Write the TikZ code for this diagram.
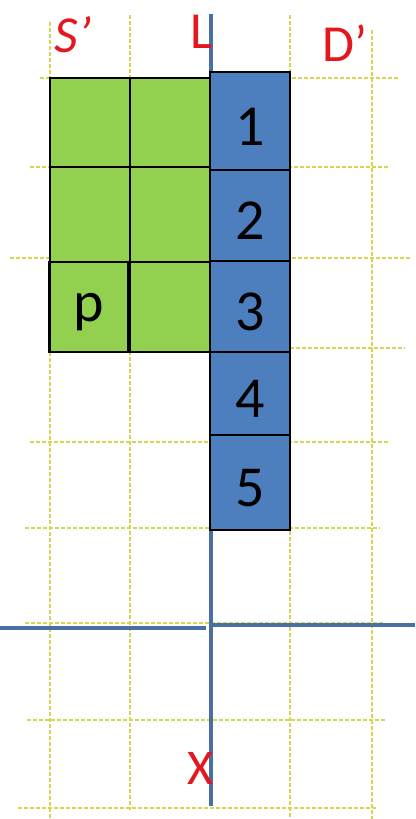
\documentclass[tikz,border=0pt]{standalone}
\usepackage{fontspec}
\setmainfont{Carlito}
\usepackage{xcolor}
\usetikzlibrary{positioning}

\definecolor{cgreen}{RGB}{146,208,80}
\definecolor{cblue}{RGB}{77,127,190}
\definecolor{caxis}{RGB}{74,111,165}
\definecolor{cgrid}{RGB}{214,212,80}
\definecolor{clab}{RGB}{227,23,30}

\begin{document}
\begin{tikzpicture}[
  x=1pt, y=-1pt,
  grd/.style={cgrid,line width=2.2pt,dash pattern=on 3.5pt off 2.5pt},
  axis/.style={caxis,line width=4pt},
  cell/.style={draw=black,line width=2.5pt,inner sep=0pt,minimum width=80pt},
  gc/.style={cell,fill=cgreen},
  bc/.style={cell,fill=cblue,font=\fontsize{58}{60}\selectfont,text height=48pt,text depth=0pt},
  lab/.style={clab,font=\fontsize{52}{56}\selectfont,inner sep=0pt},
]
\useasboundingbox (0,0) rectangle (415,819);

% dotted grid
\foreach \x/\ya/\yb in {50/22/819, 130/15/810, 290/15/819, 372/30/819}
  \draw[grd] (\x,\ya) -- (\x,\yb);
\foreach \y/\xa/\xb in {78/40/398, 167/30/390, 258/10/410, 348/290/405,
                        442/30/390, 528/25/380, 623/25/385, 720/27/385, 808/18/378}
  \draw[grd] (\xa,\y) -- (\xb,\y);

% axes
\coordinate (vt) at (211,14);
\coordinate (vb) at (211,806);
\coordinate (hl) at (0,628);
\coordinate (hm) at (206,628);
\coordinate (hn) at (213,625);
\coordinate (hr) at (415,625);
\draw[axis] (vt) -- (vb);
\draw[axis] (hl) -- (hm);
\draw[axis] (hn) -- (hr);

% green block
\node[gc, minimum height=89pt]                  (g11) at (90,122.5)  {};
\node[gc, minimum height=89pt]                  (g12) at (170,122.5) {};
\node[gc, minimum height=95pt]                  (g21) at (90,214.5)  {};
\node[gc, minimum height=95pt]                  (g22) at (170,214.5) {};
\node[gc, minimum height=90pt, minimum width=79pt,
      font=\fontsize{58}{60}\selectfont, text depth=0pt] (gp) at (89,307) {p};
\node[gc, minimum height=90pt]                  (g32) at (170,307)   {};

% blue column
\node[bc, minimum height=98pt] (b1) at (250,121)   {1};
\node[bc, minimum height=91pt] (b2) at (250,215.5) {2};
\node[bc, minimum height=91pt] (b3) at (250,306.5) {3};
\node[bc, minimum height=83pt] (b4) at (250,393.5) {4};
\node[bc, minimum height=95pt] (b5) at (250,482.5) {5};

% labels
\node[lab, font=\fontsize{52}{56}\selectfont\itshape] (ls) at (73,35)  {S’};
\node[lab]                                             (ll) at (201,32) {L};
\node[lab]                                             (ld) at (345,43) {D’};
\node[lab, font=\fontsize{50}{54}\selectfont]          (lx) at (200,768) {X};
\end{tikzpicture}
\end{document}
